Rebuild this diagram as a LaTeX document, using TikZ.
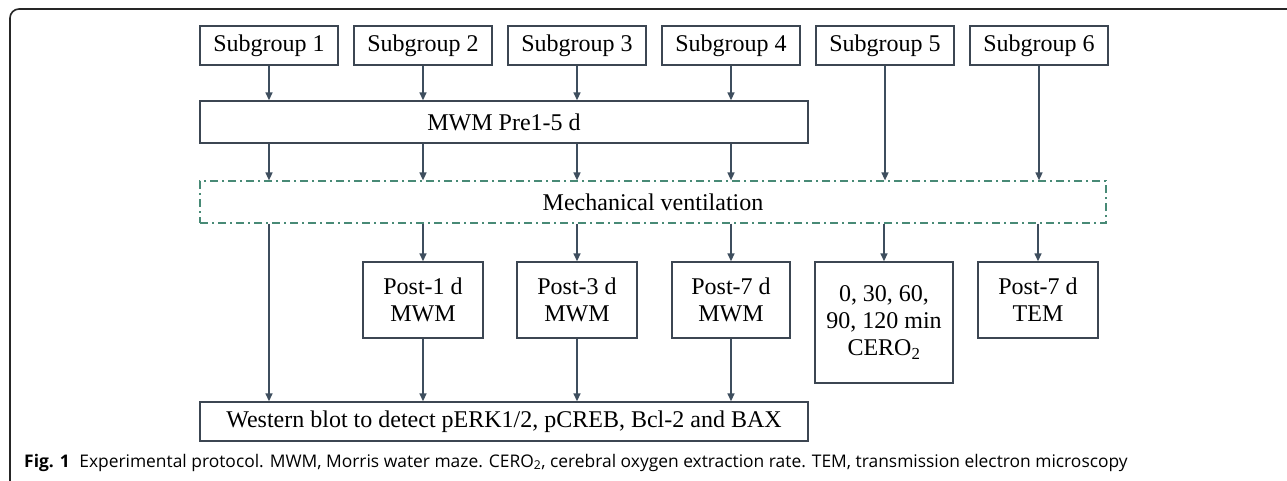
\documentclass[tikz,border=0pt]{standalone}
\usepackage{fontspec}
\setmainfont{Liberation Serif}
\newfontfamily\capfont{Open Sans}
\usetikzlibrary{arrows.meta}
\definecolor{boxline}{RGB}{60,70,82}
\definecolor{arrowcol}{RGB}{62,78,94}
\definecolor{ventcol}{RGB}{72,138,118}
\tikzset{
  stagebox/.style={draw=boxline, line width=1.4pt, inner sep=0pt, align=center,
    font=\fontsize{24}{27}\selectfont},
  flow/.style={draw=arrowcol, line width=1.5pt, -{Triangle[length=8pt,width=7pt]}}
}
\begin{document}
\begin{tikzpicture}[x=1pt,y=-1pt]
  \useasboundingbox (0,0) rectangle (1287,480);
  % outer frame, open on the right and at the bottom
  \draw[line width=1.6pt, color=black!85, rounded corners=9pt] (10,484) -- (10,9) -- (1292,9);
  % subgroups
  \foreach \i in {1,...,6}
    \node[stagebox, minimum width=138pt, minimum height=39pt] (sg\i) at ({269+154*(\i-1)},45.5) {Subgroup \i};
  \node[stagebox, minimum width=608pt, minimum height=42pt] (mwm) at (504,122) {MWM Pre1-5 d};
  \node[stagebox, draw=ventcol, line width=1.2pt, dash pattern=on 8pt off 4pt on 2pt off 4pt,
    minimum width=906pt, minimum height=42pt] (vent) at (653,202) {Mechanical ventilation};
  % post-ventilation tests
  \node[stagebox, minimum width=120pt, minimum height=76pt] (post1) at (423,300) {Post-1 d\\MWM};
  \node[stagebox, minimum width=120pt, minimum height=76pt] (post3) at (577,300) {Post-3 d\\MWM};
  \node[stagebox, minimum width=118pt, minimum height=76pt] (post7) at (731,300) {Post-7 d\\MWM};
  \node[stagebox, minimum width=138pt, minimum height=121pt] (cero) at (884,322.5) {0, 30, 60,\\90, 120 min\\CERO\textsubscript{2}};
  \node[stagebox, minimum width=120pt, minimum height=76pt] (tem) at (1038,300) {Post-7 d\\TEM};
  \node[stagebox, minimum width=608pt, minimum height=39pt] (wb) at (504,421.5) {Western blot to detect pERK1/2, pCREB, Bcl-2 and BAX};
  % connectors
  \foreach \i in {1,...,4} {
    \draw[flow] (sg\i.south) -- (sg\i.south |- mwm.north);
    \draw[flow] (sg\i.south |- mwm.south) -- (sg\i.south |- vent.north);
  }
  \draw[flow] (sg5.south) -- (sg5.south |- vent.north);
  \draw[flow] (sg6.south) -- (sg6.south |- vent.north);
  \draw[flow] (sg1.south |- vent.south) -- (sg1.south |- wb.north);
  \foreach \p in {post1,post3,post7,cero,tem}
    \draw[flow] (\p.north |- vent.south) -- (\p.north);
  \foreach \p in {post1,post3,post7}
    \draw[flow] (\p.south) -- (\p.south |- wb.north);
  % caption
  \node[anchor=base west, inner sep=0pt, font=\capfont\fontsize{17.4}{20}\selectfont] (cap) at (24,467)
    {\textbf{Fig. 1}\hspace{5pt} Experimental protocol. MWM, Morris water maze. CERO\textsubscript{2}, cerebral oxygen extraction rate. TEM, transmission electron microscopy};
\end{tikzpicture}
\end{document}
